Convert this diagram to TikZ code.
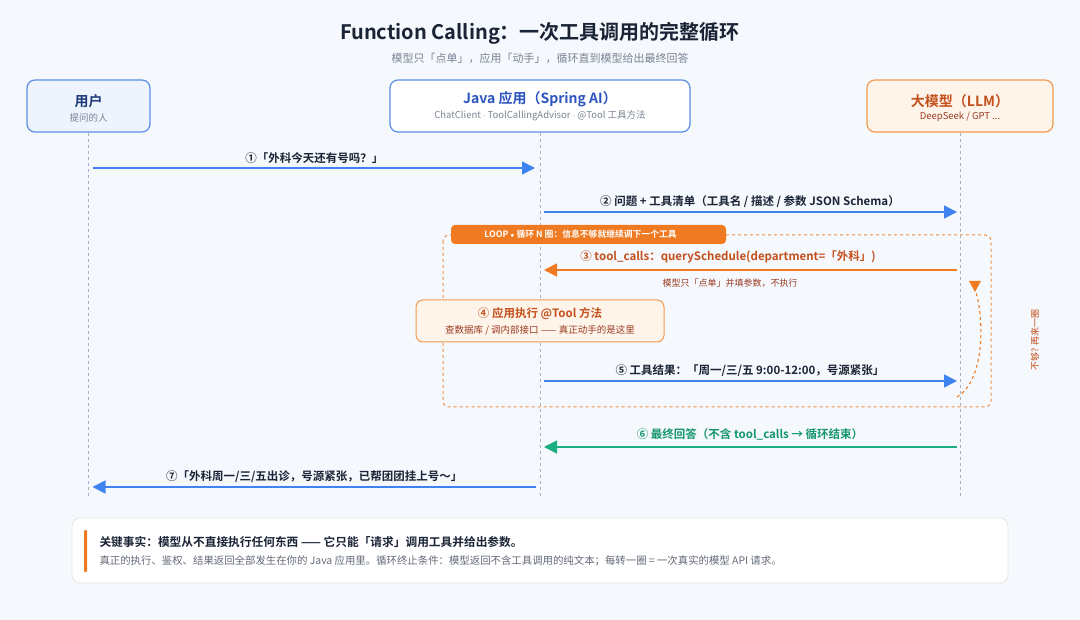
\documentclass[tikz,border=0pt]{standalone}
\usepackage{fontspec}
\setmainfont{Noto Sans CJK SC}[BoldFont={Noto Sans CJK SC Bold}]
\usetikzlibrary{arrows.meta,positioning,calc}
\definecolor{bgc}{HTML}{F5F8FC}
\definecolor{titlec}{HTML}{1B2436}
\definecolor{subg}{HTML}{7A8494}
\definecolor{blueA}{HTML}{3F83F0}
\definecolor{blueB}{HTML}{5B8FE6}
\definecolor{blueF}{HTML}{EEF4FE}
\definecolor{blueT}{HTML}{2D55C2}
\definecolor{navyT}{HTML}{1E3A7A}
\definecolor{orangeA}{HTML}{F07A22}
\definecolor{orangeB}{HTML}{F29A52}
\definecolor{orangeF}{HTML}{FFF4E9}
\definecolor{orangeT}{HTML}{C4501C}
\definecolor{brownT}{HTML}{9A3B24}
\definecolor{greenA}{HTML}{1BAF7E}
\definecolor{greenT}{HTML}{16976B}
\definecolor{lifec}{HTML}{A8B0BC}
\tikzset{
  fs/.style={font=\fontsize{#1}{#1}\selectfont},
  fsb/.style={font=\fontsize{#1}{#1}\selectfont\bfseries},
  actor/.style={draw=#1,line width=1.2pt,rounded corners=8pt,minimum height=52pt,inner sep=0pt},
  lifeline/.style={draw=lifec,dashed,line width=0.8pt},
  msg/.style={draw=#1,line width=1.6pt,-{Triangle[length=13pt,width=13pt]}},
  lbl/.style={fsb=11.5,text=titlec,inner sep=1pt}
}
\begin{document}
\begin{tikzpicture}[x=1pt,y=-1pt]
\fill[bgc] (0,0) rectangle (1080,620);
\useasboundingbox (0,0) rectangle (1080,620);
\node[fsb=20,text=titlec] (title) at (540,33) {Function Calling：一次工具调用的完整循环};
\node[fs=11,text=subg] (subtitle) at (540,58) {模型只「点单」，应用「动手」，循环直到模型给出最终回答};
% participants
\node[actor=blueB,fill=blueF,minimum width=123pt] (user) at (88.5,106) {};
\node[fsb=14,text=navyT] at ([yshift=5pt]user.center) {用户};
\node[fs=9.5,text=subg] at ([yshift=-12pt]user.center) {提问的人};
\node[actor=blueB,fill=white,minimum width=300pt] (java) at (540,106) {};
\node[fsb=14,text=blueT] at ([yshift=7pt]java.center) {Java 应用（Spring AI）};
\node[fs=9.5,text=subg] at ([yshift=-10pt]java.center) {ChatClient $\cdot$ ToolCallingAdvisor $\cdot$ @Tool 工具方法};
\node[actor=orangeB,fill=orangeF,minimum width=186pt] (llm) at (960,106) {};
\node[fsb=14,text=orangeT] at ([yshift=5pt]llm.center) {大模型（LLM）};
\node[fs=9.5,text=brownT] at ([yshift=-11pt]llm.center) {DeepSeek / GPT ...};
\coordinate (uL) at (user.south);
\coordinate (jL) at (java.south);
\coordinate (mL) at (llm.south);
\draw[lifeline] (uL) -- (uL |- 0,497);
\draw[lifeline] (jL) -- (jL |- 0,497);
\draw[lifeline] (mL) -- (mL |- 0,497);
% messages
\draw[msg=blueA,shorten <=4pt,shorten >=5pt] (uL |- 0,168) -- node[lbl,above=3pt]{①「外科今天还有号吗？」} (jL |- 0,168);
\draw[msg=blueA,shorten <=4pt,shorten >=3pt] (jL |- 0,212) -- node[lbl,above=3pt]{② 问题 + 工具清单（工具名 / 描述 / 参数 JSON Schema）} (mL |- 0,212);
% loop frame
\draw[orangeA!85,dashed,line width=1pt,rounded corners=6pt] (443,235) rectangle (991,407);
\node[fill=orangeA,rounded corners=4pt,minimum width=275pt,minimum height=19pt,inner sep=0pt] (looptab) at (588.5,234.5) {};
\node[fsb=8.8,text=white] at ([xshift=-8pt]looptab.center) {LOOP {\scriptsize$\bullet$} 循环 N 圈：信息不够就继续调下一个工具};
\draw[msg=orangeA,shorten <=3pt,shorten >=4pt] (mL |- 0,270) -- node[fsb=11.5,text=orangeT,above=3pt,xshift=-22pt]{③ tool\_calls：querySchedule(department=「外科」)} node[fs=9,text=brownT,below=5pt,xshift=-20pt]{模型只「点单」并填参数，不执行} (jL |- 0,270);
\node[draw=orangeB,fill=orangeF,line width=1pt,rounded corners=7pt,minimum width=248pt,minimum height=42pt] (exec) at (540,321) {};
\node[fsb=11.5,text=orangeT] at ([yshift=7pt]exec.center) {④ 应用执行 @Tool 方法};
\node[fs=9.5,text=brownT] at ([yshift=-9pt]exec.center) {查数据库 / 调内部接口 —— 真正动手的是这里};
\draw[msg=blueA,shorten <=4pt,shorten >=3pt] (jL |- 0,381) -- node[lbl,above=3pt]{⑤ 工具结果：「周一/三/五 9:00-12:00，号源紧张」} (mL |- 0,381);
% again arrow
\coordinate (againS) at (957,397);
\coordinate (againE) at (976,292);
\draw[orangeA,dashed,line width=1.1pt] (againS) .. controls (985,380) and (984,320) .. (againE);
\fill[orangeA] (969,281) -- (981,281) -- (975,292) -- cycle;
\node[fs=9,text=orangeT,rotate=90] (again) at (1035,340) {不够? 再来一圈};
\draw[msg=greenA,shorten <=3pt,shorten >=4pt] (mL |- 0,447) -- node[fsb=11.5,text=greenT,above=3pt]{⑥ 最终回答（不含 tool\_calls → 循环结束）} (jL |- 0,447);
\draw[msg=blueA,shorten <=4pt,shorten >=4pt] (jL |- 0,487) -- node[lbl,above=3pt]{⑦「外科周一/三/五出诊，号源紧张，已帮团团挂上号～」} (uL |- 0,487);
% key fact
\node[draw=black!10,fill=white,line width=0.8pt,rounded corners=8pt,minimum width=936pt,minimum height=65pt] (fact) at (540,550.5) {};
\fill[orangeA,rounded corners=1pt] (84,530) rectangle (87,572);
\node[fsb=11.7,text=titlec,anchor=west] at (96,542) {关键事实：模型从不直接执行任何东西 —— 它只能「请求」调用工具并给出参数。};
\node[fs=10.4,text=subg!80!black,anchor=west] at (96,561) {真正的执行、鉴权、结果返回全部发生在你的 Java 应用里。循环终止条件：模型返回不含工具调用的纯文本；每转一圈 = 一次真实的模型 API 请求。};
\end{tikzpicture}
\end{document}
